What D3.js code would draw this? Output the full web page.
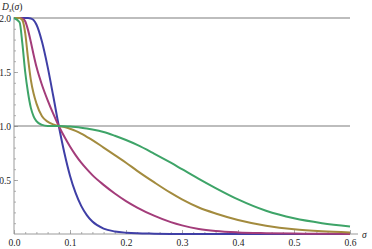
<!DOCTYPE html>
<html>
<head>
<meta charset="utf-8">
<script src="https://cdn.jsdelivr.net/npm/d3@7"></script>
<style>
    body { margin: 0; background: #fff; }
    text { font-family: "Liberation Serif", "DejaVu Serif", serif; }
</style>
</head>
<body>
<div id="chart"></div>
<script>
// sample points along sigma, shared by every curve
const sigma = [0, 0.01, 0.015, 0.02, 0.025, 0.03, 0.035, 0.04, 0.05, 0.06, 0.07, 0.08,
    0.09, 0.10, 0.11, 0.12, 0.13, 0.14, 0.16, 0.18, 0.20, 0.22, 0.25, 0.28, 0.30,
    0.33, 0.36, 0.40, 0.45, 0.50, 0.55, 0.60];

// D_s(sigma), one list per curve
const blueVals = [2, 2, 2, 2, 2, 1.995, 1.98, 1.94, 1.78, 1.55, 1.28, 1.0,
    0.75, 0.54, 0.38, 0.26, 0.175, 0.115, 0.05, 0.024, 0.012, 0.006, 0.003, 0.001, 0,
    0, 0, 0, 0, 0, 0, 0];
const magentaVals = [2, 2, 1.995, 1.97, 1.89, 1.78, 1.66, 1.55, 1.38, 1.24, 1.115, 1.0,
    0.90, 0.81, 0.73, 0.66, 0.60, 0.545, 0.455, 0.375, 0.305, 0.245, 0.17, 0.11, 0.08,
    0.047, 0.028, 0.015, 0.008, 0.004, 0.002, 0.001];
const oliveVals = [2, 2, 1.98, 1.86, 1.63, 1.43, 1.30, 1.21, 1.09, 1.04, 1.015, 1.0,
    0.99, 0.975, 0.955, 0.93, 0.90, 0.87, 0.80, 0.73, 0.66, 0.585, 0.48, 0.38, 0.32,
    0.245, 0.19, 0.13, 0.077, 0.043, 0.025, 0.015];
const greenVals = [2, 1.96, 1.76, 1.50, 1.31, 1.17, 1.09, 1.045, 1.01, 1.0, 1.0, 1.0,
    0.998, 0.995, 0.99, 0.984, 0.977, 0.968, 0.945, 0.91, 0.87, 0.825, 0.745, 0.66, 0.60,
    0.51, 0.425, 0.32, 0.215, 0.145, 0.10, 0.07];

// tick values
const xMajor = [0, 0.1, 0.2, 0.3, 0.4, 0.5, 0.6];
const xMinor = d3.range(0, 0.601, 0.02);
const yMajor = [0.5, 1.0, 1.5, 2.0];
const yMinor = d3.range(0.1, 2.001, 0.1);
// reference levels drawn across the plot
const levels = [1, 2];

const seriesList = [
    {name: 'blue', values: blueVals, color: '#3f3fa6'},
    {name: 'magenta', values: magentaVals, color: '#a33c7a'},
    {name: 'olive', values: oliveVals, color: '#a38b3e'},
    {name: 'green', values: greenVals, color: '#3ea468'}
];

const W = 372, H = 249;
const margin = {top: 18, right: 22, bottom: 15, left: 14};

const svg = d3.select('#chart').append('svg')
    .attr('width', W)
    .attr('height', H);

const x = d3.scaleLinear().domain([0, 0.6]).range([margin.left, W - margin.right]);
const y = d3.scaleLinear().domain([0, 2]).range([H - margin.bottom, margin.top]);

const axisColor = '#9a9a9a';
const labelColor = '#222';

//************** AXES ******************//

// minor ticks (inward, no labels)
svg.append('g')
    .attr('transform', `translate(0,${y(0)})`)
    .call(d3.axisBottom(x).tickValues(xMinor).tickSize(-2).tickFormat(''))
    .call(g => g.select('.domain').remove());
svg.append('g')
    .attr('transform', `translate(${x(0)},0)`)
    .call(d3.axisLeft(y).tickValues(yMinor).tickSize(-2).tickFormat(''))
    .call(g => g.select('.domain').remove());

// major ticks with labels
let xAxis = svg.append('g')
    .attr('transform', `translate(0,${y(0)})`)
    .call(d3.axisBottom(x).tickValues(xMajor).tickSize(-4).tickPadding(5).tickFormat(d3.format('.1f')))
    .call(g => g.select('.domain').remove());
let yAxis = svg.append('g')
    .attr('transform', `translate(${x(0)},0)`)
    .call(d3.axisLeft(y).tickValues(yMajor).tickSize(-4).tickPadding(3).tickFormat(d3.format('.1f')))
    .call(g => g.select('.domain').remove());

svg.selectAll('.tick line')
    .attr('stroke', axisColor)
    .attr('stroke-width', 0.8);
svg.selectAll('.tick text')
    .attr('fill', labelColor)
    .style('font-size', '9.5px');

// axis lines, the horizontal one runs a little past the data
svg.append('line')
    .attr('x1', x(0)).attr('x2', x(0.6) + 8)
    .attr('y1', y(0)).attr('y2', y(0))
    .attr('stroke', axisColor).attr('stroke-width', 1);
svg.append('line')
    .attr('x1', x(0)).attr('x2', x(0))
    .attr('y1', y(0)).attr('y2', y(2) - 1)
    .attr('stroke', axisColor).attr('stroke-width', 1);

// axis names
svg.append('text')
    .attr('x', x(0.6) + 12)
    .attr('y', y(0) + 4)
    .style('font-size', '9.5px')
    .style('font-style', 'italic')
    .attr('fill', labelColor)
    .text('σ');

let title = svg.append('text')
    .attr('x', 2)
    .attr('y', 10)
    .attr('fill', labelColor)
    .style('font-size', '9.5px')
    .style('font-style', 'italic');
title.append('tspan').text('D');
title.append('tspan').attr('dy', 2).style('font-size', '6.5px').text('s');
title.append('tspan').attr('dy', -2).style('font-style', 'normal').text('(');
title.append('tspan').text('σ');
title.append('tspan').style('font-style', 'normal').text(')');

//************* DRAWING *************//

// grey reference lines at 1 and 2
svg.selectAll('.level')
    .data(levels)
    .join('line')
    .attr('class', 'level')
    .attr('x1', x(0)).attr('x2', x(0.6))
    .attr('y1', d => y(d)).attr('y2', d => y(d))
    .attr('stroke', '#7d7d7d')
    .attr('stroke-width', 1.2);

const line = d3.line()
    .x((d, i) => x(sigma[i]))
    .y(d => y(d))
    .curve(d3.curveMonotoneX);

svg.selectAll('.curve')
    .data(seriesList)
    .join('path')
    .attr('class', 'curve')
    .attr('fill', 'none')
    .attr('stroke', d => d.color)
    .attr('stroke-width', 2)
    .attr('stroke-linejoin', 'round')
    .attr('d', d => line(d.values));
</script>
</body>
</html>
